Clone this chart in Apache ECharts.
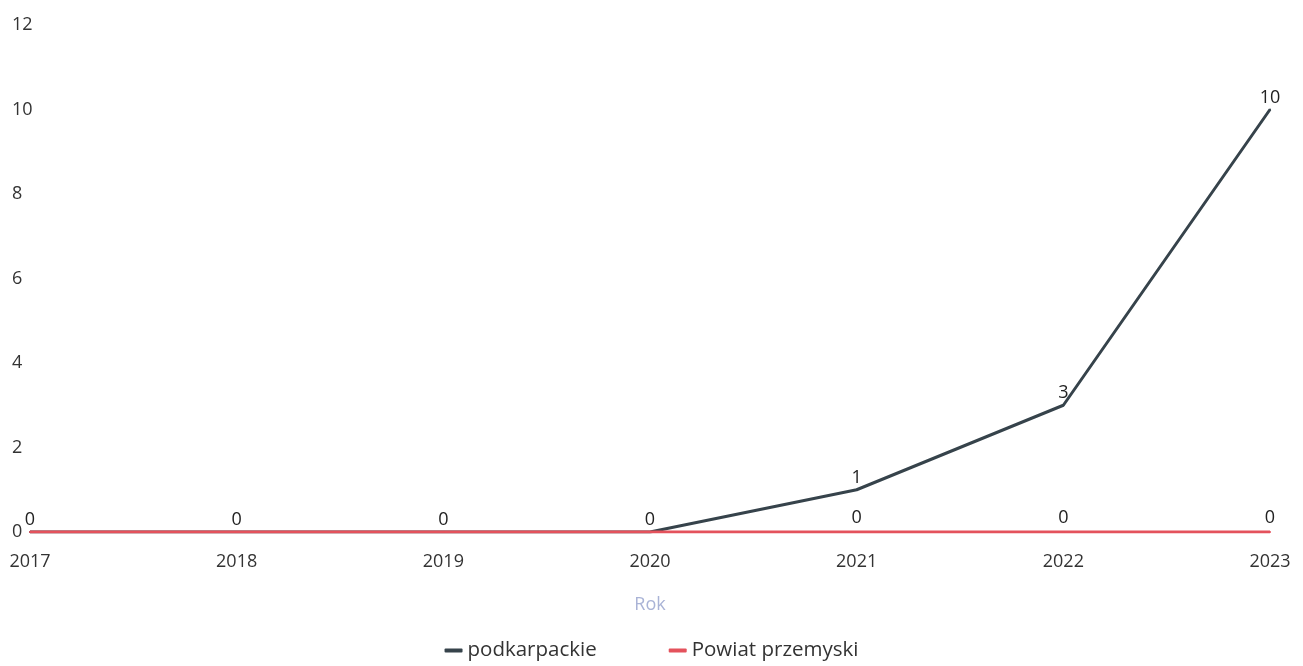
<!DOCTYPE html>
<html>
<head>
<meta charset="utf-8">
<script src="https://cdn.jsdelivr.net/npm/echarts@6/dist/echarts.min.js"></script>
<style>html,body{margin:0;padding:0;background:#fff}#c{width:1303px;height:666px}</style>
</head>
<body>
<div id="c"></div>
<script>
const years = ['2017','2018','2019','2020','2021','2022','2023'];
const podkarpackie = [0,0,0,0,1,3,10];
const powiatPrzemyski = [0,0,0,0,0,0,0];
const yTicks = {min:0, max:12, interval:2};

const chart = echarts.init(document.getElementById('c'));
const font = '"Open Sans", "Noto Sans", sans-serif';
chart.setOption({
  animation:false,
  textStyle:{fontFamily:font},
  grid:{left:30, right:33, top:25, bottom:134},
  legend:{
    bottom:0, left:'center', itemGap:72, itemWidth:18, itemHeight:4,
    textStyle:{fontSize:20.5, color:'#333', fontFamily:font},
    data:[{name:'podkarpackie', icon:'roundRect'},{name:'Powiat przemyski', icon:'roundRect'}]
  },
  xAxis:{
    type:'category', data:years, boundaryGap:false,
    name:'Rok', nameLocation:'middle', nameGap:64,
    nameTextStyle:{color:'#a9b3d6', fontSize:18, fontFamily:font},
    axisLine:{show:false}, axisTick:{show:false},
    axisLabel:{margin:21, fontSize:18, color:'#333', fontFamily:font}
  },
  yAxis:{
    type:'value', min:yTicks.min, max:yTicks.max, interval:yTicks.interval,
    splitLine:{show:false}, axisLine:{show:false}, axisTick:{show:false},
    axisLabel:{margin:18, align:'left', fontSize:18, color:'#333', fontFamily:font}
  },
  labelLayout:{hideOverlap:true},
  series:[
    {
      name:'podkarpackie', type:'line', data:podkarpackie,
      symbol:'circle', symbolSize:2, z:3,
      lineStyle:{color:'#36434b', width:3}, itemStyle:{color:'#36434b'},
      label:{show:true, position:'top', distance:2, fontSize:18, color:'#222', fontFamily:font}
    },
    {
      name:'Powiat przemyski', type:'line', data:powiatPrzemyski,
      symbol:'circle', symbolSize:2, z:4,
      lineStyle:{color:'#e4525c', width:3}, itemStyle:{color:'#e4525c'},
      label:{show:true, position:'top', distance:4, fontSize:18, color:'#222', fontFamily:font}
    }
  ]
});
</script>
</body>
</html>
